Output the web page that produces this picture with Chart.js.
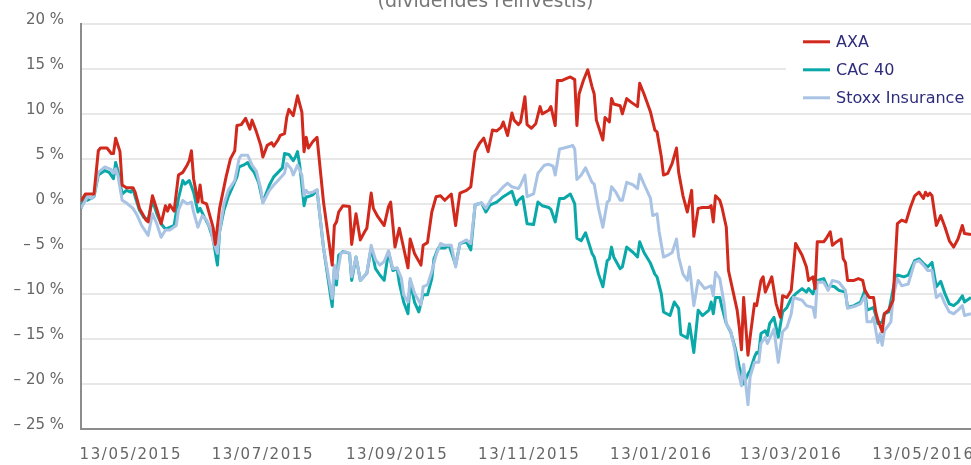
<!DOCTYPE html>
<html>
<head>
<meta charset="utf-8">
<script src="https://cdn.jsdelivr.net/npm/chart.js@4"></script>
<style>
  html, body { margin: 0; padding: 0; background: #fff; overflow: hidden; }
  #wrap { position: relative; width: 971px; height: 465px; overflow: hidden; }
  #c { position: absolute; left: 0; top: -20px; }
</style>
</head>
<body>
<div id="wrap"><canvas id="c" width="971" height="485"></canvas></div>
<script>
// Days counted from 13/05/2015
const tickDays = [0, 61, 123, 184, 245, 305, 366];
const tickLabels = ['13/05/2015', '13/07/2015', '13/09/2015', '13/11/2015', '13/01/2016', '13/03/2016', '13/05/2016'];

const seriesNames = ['AXA', 'CAC 40', 'Stoxx Insurance'];
const seriesColors = ['#d2291d', '#0aa8a8', '#a9c3e4'];

const axaDays = [
  -23,-21,-17,-15,-14,-11,-9,-8,-7,-5,
  -4,-2,1,2,4,7,8,10,12,14,
  16,17,18,20,22,24,26,27,28,29,
  31,32,33,35,38,39,41,44,46,48,
  49,51,53,55,56,58,60,61,63,65,
  66,68,69,71,72,73,75,76,77,79,
  80,81,82,84,86,89,93,94,95,96,
  98,101,102,104,106,108,109,111,112,114,
  117,119,120,122,124,126,128,129,131,134,
  135,137,139,141,143,145,148,150,151,152,
  155,157,159,161,163,165,167,169,171,172,
  174,176,177,179,180,182,183,185,187,189,
  190,193,194,196,197,199,201,203,205,206,
  207,209,211,213,214,215,218,219,221,222,
  223,226,227,229,231,234,235,237,240,242,
  243,245,246,248,250,252,253,255,257,259,
  260,262,264,267,268,269,270,272,273,275,
  276,278,280,281,282,283,285,286,288,289,
  291,292,293,296,298,300,301,303,305,307,
  310,312,313,315,316,317,320,321,323,324,
  326,328,329,330,331,334,336,338,339,341,
  343,344,345,347,348,350,352,354,356,358,
  360,362,364,366,367,368,369,370,372,374,
  376,378,380,382,384,385,388
];
const axaValues = [
  0.3,1.1,1.1,5.9,6.2,6.2,5.6,5.6,7.3,5.8,
  2.1,1.8,1.8,1.3,-0.5,-1.8,-2.0,0.9,-0.6,-2.2,
  -0.2,-0.8,-0.1,-0.8,3.2,3.5,4.3,4.8,5.9,2.8,
  0.2,2.1,0.2,0.0,-2.6,-4.5,-0.5,3.0,5.0,5.9,
  8.7,8.8,9.5,8.3,9.3,8.0,6.5,5.2,6.5,6.8,
  6.4,7.1,7.6,7.8,9.6,10.5,9.8,10.9,12.0,10.2,
  5.8,7.4,6.2,6.9,7.4,0.2,-6.8,-2.4,-2.0,-0.9,
  -0.2,-0.3,-4.5,-1.1,-4.0,-3.1,-2.7,1.2,-0.5,-1.4,
  -2.4,-0.3,0.2,-4.8,-2.7,-4.9,-7.1,-3.9,-5.5,-6.8,
  -4.6,-4.3,-0.9,0.8,0.9,0.4,1.1,-2.4,-0.5,1.2,
  1.5,1.9,5.8,6.7,7.3,5.8,8.2,8.1,8.5,9.1,
  7.6,10.1,9.3,8.8,9.1,11.9,8.8,8.4,8.9,10.8,
  10.0,10.4,10.8,8.7,13.7,13.7,13.9,14.1,13.8,8.7,
  12.2,13.7,14.9,13.0,12.2,9.3,7.1,9.6,9.1,11.7,
  11.1,10.9,10.0,11.7,11.3,10.8,13.4,12.2,10.2,8.2,
  8.0,5.2,3.2,3.4,4.5,6.2,3.5,0.9,-0.9,1.5,
  -3.6,-0.5,-0.4,-0.4,-0.2,-2.0,0.9,0.4,-0.4,-2.6,
  -7.4,-9.6,-11.8,-13.7,-16.2,-10.4,-16.8,-14.8,-11.1,-11.3,
  -8.5,-8.1,-9.8,-8.1,-11.1,-12.6,-10.2,-10.4,-9.6,-4.4,
  -5.7,-7.0,-8.5,-8.1,-9.4,-4.2,-4.2,-3.9,-3.1,-4.6,
  -4.2,-3.9,-6.1,-6.5,-8.5,-8.5,-8.3,-8.5,-9.6,-10.4,
  -10.4,-12.0,-12.9,-14.2,-12.2,-11.8,-10.7,-2.2,-1.8,-2.0,
  -0.4,0.9,1.3,0.6,1.3,0.9,1.2,0.9,-2.4,-1.3,
  -2.6,-4.1,-4.8,-3.9,-2.4,-3.3,-3.4
];

const cacDays = [
  -23,-21,-20,-17,-15,-12,-10,-8,-7,-6,
  -4,-2,0,1,2,4,6,8,10,12,
  14,16,18,20,22,24,25,27,29,31,
  32,34,36,38,40,41,43,45,47,49,
  50,52,54,55,57,59,61,64,66,68,
  70,71,73,75,76,77,78,80,81,82,
  84,86,89,93,94,95,96,98,101,102,
  104,106,109,111,113,115,117,119,121,123,
  124,126,128,129,131,133,135,137,139,140,
  142,145,147,150,152,155,157,159,162,164,
  166,169,172,174,176,178,179,181,183,186,
  188,190,193,194,196,198,200,203,205,206,
  208,210,213,214,216,218,220,221,222,223,
  226,227,229,232,234,235,237,240,242,243,
  245,246,249,251,253,254,257,258,260,262,
  264,267,268,269,270,272,273,275,277,279,
  281,283,285,286,288,289,290,291,293,294,
  295,297,299,301,303,305,307,310,312,313,
  315,317,320,322,323,325,327,330,331,334,
  337,339,340,342,343,345,347,348,350,353,
  354,357,359,362,364,366,368,370,372,374,
  376,378,380,382,384,385,388
];
const cacValues = [
  -0.5,0.9,0.4,0.8,3.2,3.7,3.5,2.8,4.6,3.7,
  1.1,1.5,1.3,1.7,0.8,-0.7,-1.5,-1.8,0.4,-1.1,
  -2.2,-2.8,-2.6,-2.4,0.6,2.6,2.2,2.6,1.3,-0.9,
  -0.5,-1.5,-2.4,-3.9,-6.8,-3.1,-0.7,0.8,1.9,3.0,
  4.1,4.3,4.6,4.1,3.5,2.4,0.2,2.1,3.0,3.5,
  4.0,5.6,5.5,4.8,5.2,5.8,4.3,-0.2,0.8,0.8,
  1.0,1.5,-4.9,-11.4,-7.2,-9.0,-5.7,-5.3,-5.5,-8.5,
  -5.9,-8.5,-7.7,-4.9,-7.2,-7.9,-8.5,-5.3,-7.4,-7.2,
  -8.8,-10.9,-12.2,-8.6,-10.9,-12.0,-10.1,-10.1,-8.3,-6.1,
  -4.9,-4.9,-4.6,-6.8,-4.4,-4.2,-5.1,-0.1,0.1,-0.9,
  -0.1,0.2,0.8,1.1,1.4,-0.1,0.4,0.8,-2.2,-2.3,
  0.2,-0.2,-0.4,-0.6,-2.0,0.6,0.6,1.1,0.0,-3.8,
  -4.1,-3.2,-5.5,-5.9,-7.8,-9.2,-6.3,-6.1,-4.8,-5.9,
  -7.2,-7.0,-4.8,-5.4,-5.9,-4.2,-5.4,-6.6,-7.8,-8.1,
  -10.0,-12.0,-12.4,-10.9,-11.6,-14.5,-14.9,-13.3,-16.5,-11.8,
  -12.4,-11.8,-10.9,-12.2,-10.4,-10.4,-11.5,-13.3,-14.2,-15.9,
  -18.1,-20.0,-18.9,-18.5,-17.0,-16.5,-16.6,-14.4,-14.1,-14.6,
  -13.3,-12.6,-14.8,-12.0,-11.5,-10.5,-10.0,-9.4,-9.8,-9.4,
  -10.0,-8.5,-8.3,-9.4,-9.1,-9.2,-9.6,-9.8,-11.5,-11.3,
  -10.9,-9.6,-11.8,-11.6,-11.5,-13.3,-13.1,-12.2,-12.0,-8.3,
  -7.9,-8.1,-7.9,-6.3,-6.1,-6.6,-7.0,-6.5,-9.2,-8.6,
  -10.0,-11.1,-11.3,-10.9,-10.2,-10.9,-10.4
];

const stoxxDays = [
  -23,-20,-18,-17,-15,-12,-9,-8,-7,-6,
  -4,-2,1,3,5,8,10,12,14,16,
  18,21,22,24,26,28,29,31,33,35,
  37,38,40,41,43,45,48,50,51,54,
  56,58,60,61,64,66,68,71,72,74,
  75,77,79,80,81,82,84,86,89,93,
  94,95,97,99,101,102,104,106,109,111,
  113,115,117,119,121,123,125,126,128,129,
  131,134,135,137,139,141,143,145,148,150,
  152,155,157,159,162,164,167,169,172,174,
  176,179,180,182,183,186,188,189,191,193,
  195,196,198,200,203,204,205,206,208,210,
  213,214,216,218,220,221,222,224,226,227,
  229,232,234,235,237,240,241,243,244,246,
  248,250,252,253,255,257,258,260,262,265,
  267,268,269,270,272,274,275,277,279,280,
  282,283,285,286,288,290,291,293,294,297,
  299,301,303,305,306,310,312,315,316,317,
  320,322,324,327,330,331,334,337,339,340,
  342,343,345,346,347,348,351,352,354,356,
  359,362,364,366,368,370,372,374,376,378,
  380,382,384,385,388
];
const stoxxValues = [
  -0.5,0.8,0.6,0.9,3.5,4.1,3.8,3.4,3.9,3.2,
  0.4,0.1,-0.5,-1.3,-2.4,-3.5,-1.1,-2.2,-3.7,-2.9,
  -2.9,-2.4,-0.7,0.4,0.0,0.2,-0.9,-2.6,-1.3,-1.8,
  -2.9,-4.1,-5.5,-3.1,0.0,1.5,2.6,5.0,5.4,5.4,
  4.3,3.6,1.7,0.1,1.5,2.1,2.6,3.4,4.5,3.9,
  3.2,4.3,3.2,0.9,1.5,1.2,1.3,1.6,-4.9,-10.5,
  -6.8,-8.3,-5.5,-5.3,-5.5,-8.1,-5.9,-8.5,-7.7,-4.6,
  -6.2,-6.8,-6.4,-5.2,-7.2,-7.1,-8.3,-10.1,-10.9,-8.3,
  -9.9,-11.2,-9.2,-9.0,-7.5,-5.7,-4.4,-4.6,-4.6,-7.0,
  -4.4,-4.0,-4.4,-0.1,0.1,-0.5,0.8,1.1,1.9,2.3,
  1.9,1.7,2.1,3.2,0.8,1.1,3.4,3.7,4.3,4.4,
  4.2,3.2,6.1,6.2,6.4,6.5,6.1,2.7,3.2,4.0,
  2.4,2.2,-0.5,-2.6,0.2,0.4,1.9,1.3,0.4,0.4,
  2.4,2.1,1.7,3.3,2.2,0.6,-1.3,-1.1,-3.1,-5.9,
  -5.7,-5.4,-3.9,-5.9,-7.8,-8.5,-7.0,-11.3,-8.5,-9.4,
  -9.2,-9.1,-10.2,-7.6,-8.3,-11.1,-13.3,-14.1,-16.3,-18.1,
  -20.2,-17.8,-22.3,-19.2,-17.6,-17.6,-15.5,-14.8,-15.5,-13.9,
  -17.6,-14.2,-13.7,-12.2,-10.4,-10.7,-11.3,-11.5,-12.6,-8.7,
  -8.7,-9.6,-8.5,-8.7,-9.6,-11.6,-11.4,-11.1,-10.2,-13.1,
  -13.1,-12.6,-15.4,-14.4,-15.7,-14.1,-13.1,-10.4,-8.3,-9.1,
  -8.9,-6.5,-6.3,-6.8,-7.4,-7.4,-10.4,-10.0,-11.1,-12.0,
  -12.2,-11.8,-11.3,-12.4,-12.2
];

function toPoints(days, values) {
  return days.map((d, i) => ({ x: d, y: values[i] }));
}

const FONT = 'DejaVu Sans';

const legendPlugin = {
  id: 'insideLegend',
  afterDatasetsDraw(chart) {
    const ctx = chart.ctx;
    const a = chart.chartArea;
    const boxLeft = a.right - 185;
    ctx.save();
    ctx.fillStyle = '#ffffff';
    ctx.fillRect(boxLeft, a.top + 3, a.right - boxLeft, 84);
    ctx.font = '16px "' + FONT + '"';
    ctx.textBaseline = 'middle';
    ctx.textAlign = 'left';
    chart.data.datasets.forEach((ds, i) => {
      const y = a.top + 18 + i * 28;
      ctx.strokeStyle = ds.borderColor;
      ctx.lineWidth = 3;
      ctx.beginPath();
      ctx.moveTo(boxLeft + 17, y);
      ctx.lineTo(boxLeft + 44, y);
      ctx.stroke();
      ctx.fillStyle = '#2e2c7c';
      ctx.fillText(ds.label, boxLeft + 50, y + 1);
    });
    ctx.restore();
  }
};

const spacingPlugin = {
  id: 'xLabelSpacing',
  beforeDraw(chart) {
    const xs = chart.scales.x;
    if (xs && !xs.__spaced) {
      const orig = xs.drawLabels.bind(xs);
      xs.drawLabels = function (area) {
        const c = this.ctx;
        c.save();
        try { c.letterSpacing = '1.6px'; } catch (e) {}
        orig(area);
        c.restore();
      };
      xs.__spaced = true;
    }
  }
};

new Chart(document.getElementById('c'), {
  type: 'line',
  data: {
    datasets: [
      { label: seriesNames[0], data: toPoints(axaDays, axaValues), borderColor: seriesColors[0], order: 0 },
      { label: seriesNames[1], data: toPoints(cacDays, cacValues), borderColor: seriesColors[1], order: 2 },
      { label: seriesNames[2], data: toPoints(stoxxDays, stoxxValues), borderColor: seriesColors[2], order: 1 }
    ]
  },
  options: {
    responsive: false,
    devicePixelRatio: 1,
    animation: false,
    layout: { padding: 0 },
    elements: {
      line: { borderWidth: 3, tension: 0, fill: false, borderJoinStyle: 'round' },
      point: { radius: 0, hoverRadius: 0 }
    },
    plugins: {
      legend: { display: false },
      tooltip: { enabled: false },
      title: {
        display: true,
        text: '(dividendes reinvestis)',
        color: '#777777',
        font: { family: FONT, size: 19, weight: 'normal' },
        padding: { top: 11, bottom: 10 }
      }
    },
    scales: {
      x: {
        type: 'linear',
        min: -23,
        max: 388,
        afterBuildTicks: (s) => { s.ticks = tickDays.map(v => ({ value: v })); },
        afterFit: (s) => { s.height = 36; s.paddingLeft = 0; s.paddingRight = 0; },
        ticks: {
          autoSkip: false,
          maxRotation: 0,
          padding: 17,
          color: '#666666',
          font: { family: FONT, size: 15 },
          callback: (v, i) => tickLabels[i]
        },
        grid: { display: false, drawTicks: false },
        border: { display: true, color: '#8c8c8c', width: 2 }
      },
      y: {
        min: -25,
        max: 20,
        afterFit: (s) => { s.width = 81; s.paddingTop = 0; s.paddingBottom = 0; },
        ticks: {
          stepSize: 5,
          padding: 17,
          labelOffset: -4,
          color: '#666666',
          font: { family: FONT, size: 15 },
          callback: (v) => (v < 0 ? '\u2013 ' + Math.abs(v) : String(v)) + ' %'
        },
        grid: { color: '#e8e8e8', lineWidth: 2, drawTicks: false },
        border: { display: true, color: '#8c8c8c', width: 2 }
      }
    }
  },
  plugins: [legendPlugin, spacingPlugin]
});
</script>
</body>
</html>
